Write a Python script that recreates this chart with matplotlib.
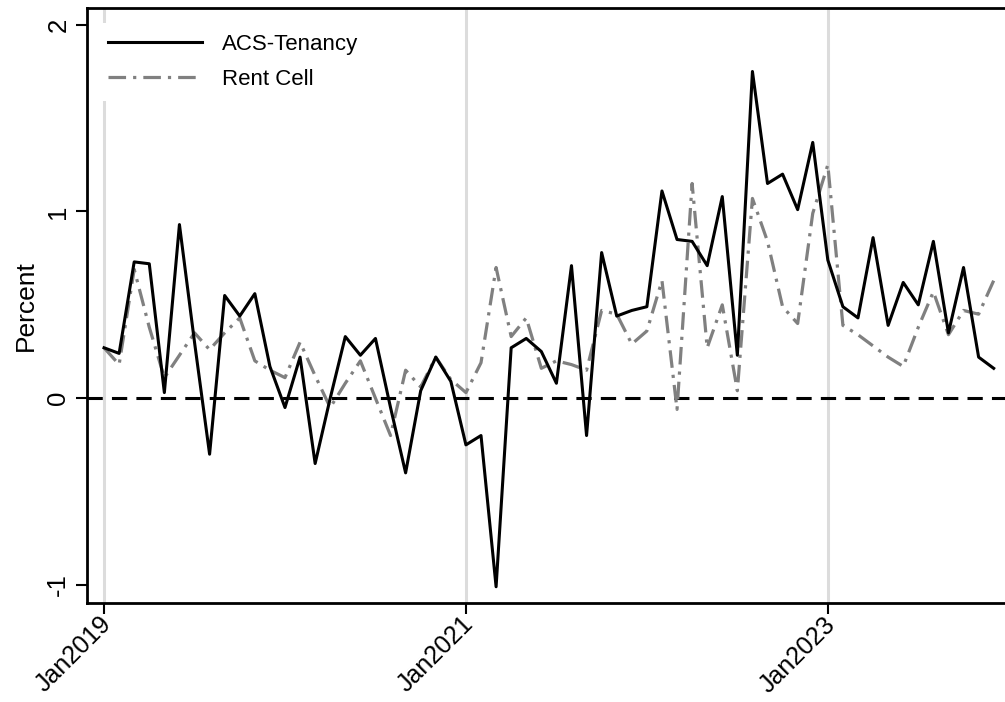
import matplotlib
matplotlib.use('Agg')
import matplotlib.pyplot as plt
import matplotlib.transforms as mtransforms
import numpy as np

plt.rcParams['font.family'] = ['Liberation Sans', 'DejaVu Sans']

# monthly series, Jan2019 .. Dec2023
months = np.arange(60)
acs_tenancy = [0.27, 0.24, 0.73, 0.72, 0.03, 0.93, 0.30, -0.30, 0.55, 0.44,
               0.56, 0.17, -0.05, 0.22, -0.35, 0.00, 0.33, 0.23, 0.32, -0.05,
               -0.40, 0.04, 0.22, 0.09, -0.25, -0.20, -1.01, 0.27, 0.32, 0.25,
               0.08, 0.71, -0.20, 0.78, 0.44, 0.47, 0.49, 1.11, 0.85, 0.84,
               0.71, 1.08, 0.23, 1.75, 1.15, 1.20, 1.01, 1.37, 0.74, 0.49,
               0.43, 0.86, 0.39, 0.62, 0.50, 0.84, 0.35, 0.70, 0.22, 0.16]
rent_cell = [0.27, 0.18, 0.69, 0.38, 0.11, 0.23, 0.35, 0.26, 0.35, 0.43,
             0.20, 0.15, 0.11, 0.30, 0.12, -0.05, 0.08, 0.20, 0.00, -0.20,
             0.15, 0.06, 0.22, 0.10, 0.03, 0.19, 0.70, 0.33, 0.43, 0.16,
             0.20, 0.18, 0.15, 0.47, 0.45, 0.29, 0.36, 0.63, -0.06, 1.15,
             0.27, 0.50, 0.04, 1.07, 0.84, 0.49, 0.40, 0.99, 1.25, 0.39,
             0.34, 0.28, 0.22, 0.17, 0.38, 0.57, 0.34, 0.47, 0.45, 0.63]
xtick_pos = [0, 24, 48]
xtick_labels = ['Jan2019', 'Jan2021', 'Jan2023']
ytick_pos = [-1, 0, 1, 2]

fig = plt.figure(figsize=(10.05, 7.02), dpi=100)
ax = fig.add_axes([87/1005, 1 - 603/702, 1 - 87/1005, (603 - 8)/702])

for x in xtick_pos:
    ax.axvline(x, color='#dcdcdc', lw=2.2, zorder=0)
ax.axhline(0, color='black', lw=2.2, linestyle=(0, (5, 3)), zorder=1)

ax.plot(months, acs_tenancy, color='black', lw=2.2, label='ACS-Tenancy', zorder=3)
ax.plot(months, rent_cell, color='#808080', lw=2.3, dashes=(5.5, 2.2, 1, 2.2),
        label='Rent Cell', zorder=2)

ax.set_xlim(-1.13, 59.75)
ax.set_ylim(-1.097, 2.09)
ax.set_xticks(xtick_pos)
ax.set_xticklabels(xtick_labels, rotation=45, ha='right', rotation_mode='anchor',
                   fontsize=18)
ax.set_yticks(ytick_pos)
ax.set_yticklabels([str(v) for v in ytick_pos], rotation=90, va='center', fontsize=18.5)
ax.tick_params(axis='both', direction='out', length=8, width=1.5, colors='black')
ax.tick_params(axis='x', pad=0)
ax.tick_params(axis='y', pad=4)
ax.set_ylabel('Percent', fontsize=19, labelpad=6)

# nudge rotated date labels up/left like the original
shift = mtransforms.ScaledTranslation(-5/100, 2/100, fig.dpi_scale_trans)
for lab in ax.get_xticklabels():
    lab.set_transform(lab.get_transform() + shift)

for side in ['left', 'bottom', 'top']:
    ax.spines[side].set_linewidth(2)
ax.spines['right'].set_visible(False)

leg = ax.legend(loc='upper left', bbox_to_anchor=(0.0103, 0.9755), borderaxespad=0,
                handlelength=4.25, fontsize=16, frameon=True,
                labelspacing=0.65, handletextpad=0.9, borderpad=0.5)
leg.get_frame().set_edgecolor('none')
leg.get_frame().set_facecolor('white')
leg.get_frame().set_alpha(1)

fig.savefig('out.png', dpi=100)
